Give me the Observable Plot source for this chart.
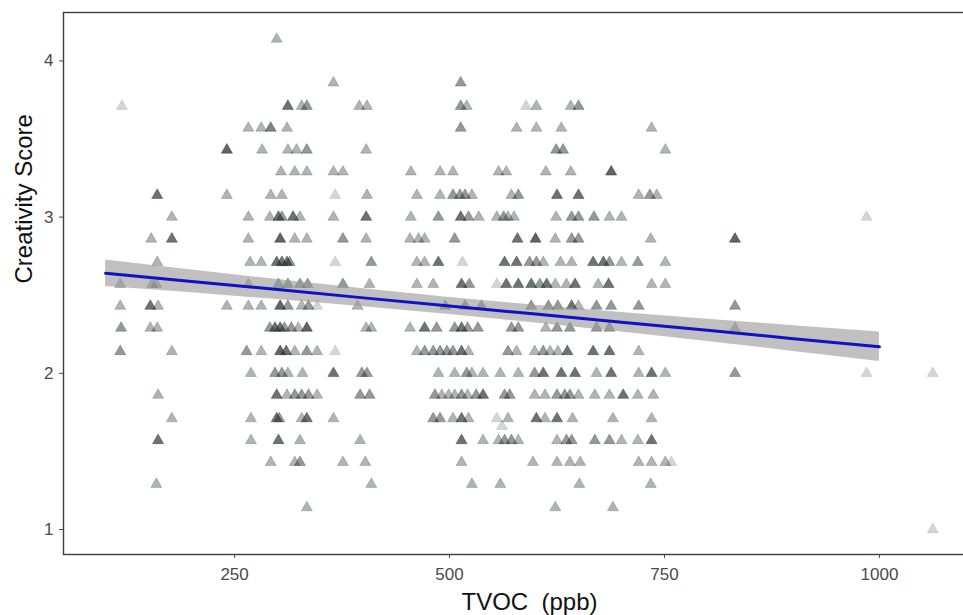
<!DOCTYPE html>
<html><head><meta charset="utf-8">
<script src="https://cdn.jsdelivr.net/npm/d3@7"></script>
<script src="https://cdn.jsdelivr.net/npm/@observablehq/plot@0.6"></script>
<style>
html,body{margin:0;padding:0;background:#fff;overflow:hidden}
#wrap{width:963px;height:615px;overflow:hidden}
#wrap svg{max-width:none !important;}
</style></head><body><div id="wrap"></div>
<script>
// Points per creativity-score level: [TVOC (ppb), number of overlapping observations]
const at414 = [[299,2]];
const at386 = [[365,2],[513,3]];
const at371 = [[119,1],[312,5],[328,2],[334,3],[395,2],[404,2],[513,3],[520,2],[589,1],[601,2],[641,2],[650,3]];
const at357 = [[266,2],[281,2],[292,4],[311,2],[513,3],[578,2],[601,2],[630,2],[735,2]];
const at343 = [[241,6],[282,2],[312,2],[322,2],[334,3],[403,2],[624,3],[632,3],[751,2]];
const at329 = [[304,2],[320,2],[334,2],[365,2],[376,2],[455,2],[489,2],[504,2],[557,2],[566,2],[612,2],[641,2],[688,6]];
const at314 = [[160,5],[241,2],[292,2],[305,2],[367,1],[404,2],[462,2],[489,2],[504,3],[512,3],[518,3],[526,2],[572,2],[580,3],[625,5],[650,5],[720,2],[733,3],[741,2]];
const at300 = [[177,2],[266,2],[291,2],[301,5],[305,3],[318,5],[326,2],[365,2],[403,5],[455,2],[487,3],[513,5],[522,3],[534,2],[555,2],[563,3],[568,2],[575,2],[624,2],[642,3],[650,3],[668,3],[686,2],[700,2],[985,1]];
const at286 = [[153,2],[177,5],[266,2],[303,6],[320,2],[334,2],[376,3],[403,2],[454,2],[464,2],[471,2],[506,3],[579,5],[600,6],[623,2],[642,3],[650,3],[734,2],[832,6]];
const at271 = [[160,2],[268,2],[281,2],[299,5],[305,5],[311,5],[314,3],[367,1],[409,3],[462,2],[471,2],[487,5],[515,1],[564,5],[578,5],[593,3],[601,3],[609,2],[629,2],[642,2],[667,5],[679,5],[686,3],[700,2],[719,3],[751,2]];
const at257 = [[117,2],[154,2],[159,2],[266,2],[301,3],[312,3],[326,3],[335,3],[376,3],[407,2],[462,2],[481,2],[514,5],[523,3],[555,1],[566,5],[580,5],[595,5],[605,3],[613,5],[623,2],[636,2],[646,5],[673,2],[685,5],[735,2],[751,2]];
const at243 = [[117,2],[152,5],[161,2],[241,2],[266,2],[281,2],[303,6],[312,3],[328,2],[336,3],[346,1],[393,2],[495,3],[518,3],[537,3],[595,3],[615,3],[626,3],[642,5],[650,2],[671,3],[688,3],[720,3],[832,3]];
const at229 = [[118,3],[152,2],[160,2],[291,3],[297,5],[303,5],[308,3],[316,3],[324,2],[334,6],[403,2],[409,2],[454,2],[471,5],[485,3],[506,3],[514,5],[521,3],[533,3],[572,3],[580,3],[612,2],[625,3],[640,3],[671,3],[686,3],[832,2]];
const at214 = [[117,3],[177,2],[264,3],[281,2],[303,6],[310,5],[320,2],[334,3],[346,2],[367,1],[462,2],[471,3],[481,3],[489,3],[497,3],[504,3],[514,5],[522,2],[568,3],[578,2],[599,2],[609,3],[617,2],[626,2],[637,5],[667,5],[686,5],[720,2]];
const at200 = [[269,2],[297,3],[305,3],[312,2],[329,2],[365,5],[398,3],[404,3],[487,2],[506,2],[520,3],[526,2],[539,2],[559,2],[580,2],[599,3],[609,5],[630,5],[646,5],[671,2],[688,5],[720,2],[735,5],[751,2],[832,3],[985,1],[1062,1]];
const at186 = [[161,2],[299,5],[311,2],[320,3],[328,3],[336,3],[346,2],[396,3],[407,3],[483,3],[491,2],[499,2],[506,2],[514,3],[521,2],[531,3],[539,5],[564,3],[570,3],[599,2],[611,2],[625,3],[634,3],[640,3],[650,2],[669,2],[686,2],[702,5],[719,2],[737,2]];
const at171 = [[177,2],[269,2],[299,5],[302,3],[328,2],[334,5],[365,2],[481,3],[489,3],[504,2],[514,5],[522,2],[555,1],[568,2],[601,5],[611,2],[625,5],[643,2],[690,2],[735,2]];
const at166 = [[561,1]];
const at157 = [[161,5],[269,2],[301,5],[326,2],[396,2],[514,5],[539,2],[557,2],[564,3],[572,3],[580,2],[625,2],[636,3],[642,3],[669,3],[686,3],[700,2],[719,2],[735,5]];
const at143 = [[292,2],[320,2],[326,3],[376,2],[402,2],[514,2],[597,2],[625,2],[640,2],[652,2],[720,2],[735,2],[751,2],[758,1]];
const at129 = [[159,2],[409,2],[526,2],[559,2],[651,2],[734,2]];
const at114 = [[334,2],[623,2],[690,2]];
const at100 = [[1062,1]];

const levels = [
  [4.14, at414], [3.86, at386], [3.71, at371], [3.57, at357], [3.43, at343],
  [3.29, at329], [3.14, at314], [3.00, at300], [2.86, at286], [2.71, at271],
  [2.57, at257], [2.43, at243], [2.29, at229], [2.14, at214], [2.00, at200],
  [1.86, at186], [1.71, at171], [1.66, at166], [1.57, at157], [1.43, at143],
  [1.29, at129], [1.14, at114], [1.00, at100]
];

// Linear fit with confidence band
const fitX  = [100, 200, 300, 400, 500, 600, 700, 800, 900, 1000];
const fitY  = [2.640, 2.588, 2.536, 2.483, 2.431, 2.379, 2.327, 2.275, 2.222, 2.170];
const fitLo = [2.555, 2.515, 2.472, 2.426, 2.376, 2.322, 2.265, 2.204, 2.140, 2.075];
const fitHi = [2.725, 2.661, 2.600, 2.541, 2.486, 2.436, 2.390, 2.346, 2.305, 2.265];

const xTicks = [250, 500, 750, 1000];
const yTicks = [1, 2, 3, 4];

const points = levels.flatMap(([s, pts]) => pts.map(([t, n]) => ({tvoc: t, score: s, n})));
const fit = fitX.map((x, i) => ({x, y: fitY[i], lo: fitLo[i], hi: fitHi[i]}));
const alpha = d => 1 - Math.pow(0.8, d.n);
const ink = "#24302d";

const chart = Plot.plot({
  width: 1000,
  height: 615,
  marginLeft: 63,
  marginRight: 5,
  marginTop: 12,
  marginBottom: 61,
  style: {fontFamily: "'Liberation Sans', Arial, sans-serif", fontSize: "17px", color: "#4a4a4a", background: "#fff", maxWidth: "none"},
  x: {domain: [51, 1135], ticks: xTicks, tickFormat: d => String(d), tickSize: 4, tickPadding: 9, label: null},
  y: {domain: [0.84, 4.31], ticks: yTicks, tickFormat: d => String(d), tickSize: 4, tickPadding: 6, label: null},
  marks: [
    Plot.dot(points, {x: "tvoc", y: "score", symbol: "triangle", r: 4.1,
      fill: ink, fillOpacity: alpha, stroke: ink, strokeOpacity: alpha, strokeWidth: 0.6}),
    Plot.areaY(fit, {x: "x", y1: "lo", y2: "hi", fill: "#999999", fillOpacity: 0.62}),
    Plot.line(fit, {x: "x", y: "y", stroke: "#1010c4", strokeWidth: 3}),
    Plot.frame({stroke: "#3c3c3c", strokeWidth: 1.4}),
    Plot.text(["TVOC\u00a0\u00a0(ppb)"], {frameAnchor: "bottom", lineAnchor: "bottom", dy: 55, fontSize: 24, fill: "#111"}),
    Plot.text(["Creativity Score"], {frameAnchor: "left", lineAnchor: "bottom", rotate: -90, dx: -32, fontSize: 24, fill: "#111"})
  ]
});
document.getElementById("wrap").appendChild(chart);
</script>
</body></html>
